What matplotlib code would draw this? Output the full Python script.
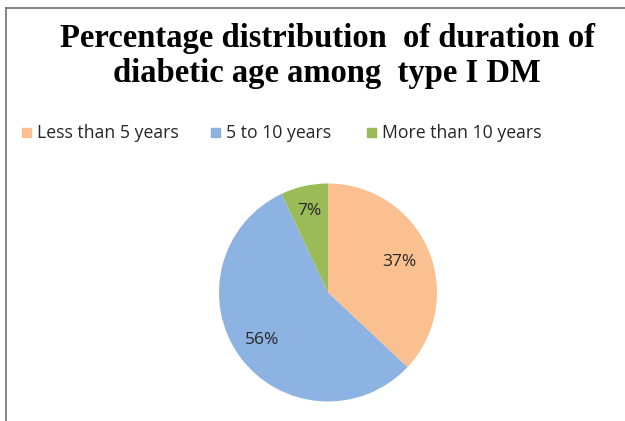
import numpy as np
import matplotlib.pyplot as plt
from matplotlib.lines import Line2D

# duration of diabetic age, type I DM
categories = ["Less than 5 years", "5 to 10 years", "More than 10 years"]
percentages = [37, 56, 7]
colors = ["#FAC090", "#8DB3E2", "#9BBB59"]

W, H = 625, 421
fig = plt.figure(figsize=(W / 100, H / 100), dpi=100)

# thin frame on the top and left edges
fig.add_artist(Line2D([6 / W, 6 / W], [0, 1 - 8 / H], transform=fig.transFigure,
                      color="#7a7a7a", lw=1.3))
fig.add_artist(Line2D([6 / W, 1], [1 - 8 / H, 1 - 8 / H], transform=fig.transFigure,
                      color="#7a7a7a", lw=1.3))

title_kw = dict(ha="center", va="baseline", fontsize=23.5, fontweight="bold",
                family="Liberation Serif")
fig.text(328 / W, 1 - 47 / H, "Percentage distribution  of duration of", **title_kw)
fig.text(327 / W, 1 - 82 / H, "diabetic age among  type I DM", **title_kw)

# pie axes, centred at (328, 292) px with radius 109 px
cx, cy, r = 328, 292.5, 109
ax = fig.add_axes([(cx - r) / W, (H - cy - r) / H, 2 * r / W, 2 * r / H])
wedges, texts, autotexts = ax.pie(
    percentages, colors=colors, startangle=90, counterclock=False,
    autopct="%d%%", pctdistance=0.75,
    textprops=dict(fontsize=12.5, color="#262626", family="Open Sans"))
ax.set_xlim(-1, 1)
ax.set_ylim(-1, 1)
ax.set_aspect("equal")

# nudge each percentage label radially
dists = [0.71, 0.745, 0.77]
for w, t, d in zip(wedges, autotexts, dists):
    ang = np.deg2rad((w.theta1 + w.theta2) / 2)
    t.set_position((d * np.cos(ang), d * np.sin(ang)))

# legend row
leg_x = [27, 216, 372]
for x, c, lab in zip(leg_x, colors, categories):
    fig.patches.append(plt.Rectangle(((x - 5) / W, 1 - 137 / H), 9 / W, 9 / H,
                                     transform=fig.transFigure, color=c))
    fig.text((x + 10) / W, 1 - 138 / H, lab, ha="left", va="baseline",
             fontsize=12.7, color="#262626", family="Open Sans")

fig.savefig("out.png", dpi=100)
